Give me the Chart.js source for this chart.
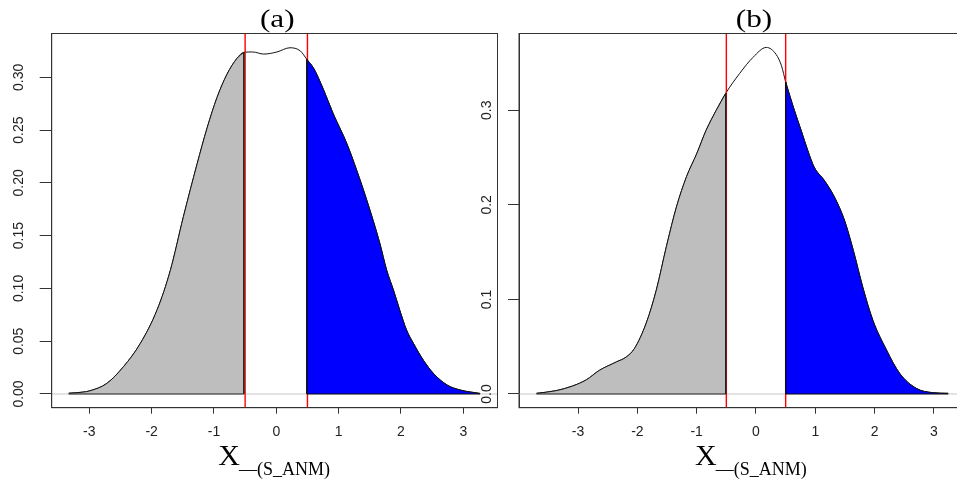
<!DOCTYPE html>
<html><head><meta charset="utf-8">
<script src="https://cdn.jsdelivr.net/npm/chart.js@4.4.0/dist/chart.umd.min.js"></script>
<style>
html,body{margin:0;padding:0;background:#fff;width:957px;height:482px;overflow:hidden;}
#wrap{position:relative;width:957px;height:482px;overflow:hidden;background:#fff;}
canvas{position:absolute;top:0;}
#ca{left:0;}
#cb{left:470px;}
</style></head><body>
<div id="wrap"><canvas id="ca" width="500" height="482"></canvas><canvas id="cb" width="500" height="482"></canvas></div>
<script>
// ---- data ----
const xA = [-3.33, -3.10, -2.99, -2.72, -2.45, -2.18, -1.91, -1.70, -1.49, -1.27, -1.11, -0.95, -0.79, -0.63, -0.52, -0.38, -0.20, 0.01, 0.22, 0.385, 0.49, 0.60, 0.76, 0.91, 1.13, 1.29, 1.45, 1.66, 1.77, 1.88, 1.98, 2.09, 2.20, 2.36, 2.52, 2.74, 2.95, 3.27];
const densA = [0.0007, 0.0018, 0.003, 0.010, 0.026, 0.048, 0.080, 0.117, 0.168, 0.218, 0.252, 0.281, 0.303, 0.318, 0.3237, 0.324, 0.322, 0.324, 0.328, 0.325, 0.317, 0.3085, 0.288, 0.266, 0.2375, 0.212, 0.184, 0.143, 0.1175, 0.0985, 0.0796, 0.0606, 0.048, 0.032, 0.0196, 0.0085, 0.0038, 0.0005];
const xB = [-3.70, -3.37, -3.09, -2.86, -2.64, -2.35, -2.19, -2.05, -1.85, -1.68, -1.51, -1.34, -1.17, -1.00, -0.84, -0.67, -0.51, -0.275, -0.05, 0.175, 0.34, 0.43, 0.50, 0.647, 0.76, 0.87, 0.98, 1.15, 1.32, 1.49, 1.64, 1.80, 1.97, 2.20, 2.42, 2.70, 2.98, 3.24];
const densB = [0.0007, 0.0035, 0.0085, 0.015, 0.025, 0.034, 0.039, 0.048, 0.075, 0.110, 0.156, 0.198, 0.230, 0.254, 0.279, 0.300, 0.318, 0.339, 0.356, 0.3665, 0.359, 0.347, 0.330, 0.300, 0.279, 0.258, 0.240, 0.226, 0.2086, 0.184, 0.152, 0.113, 0.078, 0.0465, 0.022, 0.006, 0.0014, 0.0007];
const cutA = [-0.52, 0.49];      // edges of the shaded tails, panel (a)
const cutB = [-0.51, 0.50];      // edges of the shaded tails, panel (b)
const redLines = [-0.5, 0.5];
const xTickValues = [-3, -2, -1, 0, 1, 2, 3];
const xTickLabels = ['-3', '-2', '-1', '0', '1', '2', '3'];
const yTicksA = [0, 0.05, 0.10, 0.15, 0.20, 0.25, 0.30];
const yTickLabelsA = ['0.00', '0.05', '0.10', '0.15', '0.20', '0.25', '0.30'];
const yTicksB = [0, 0.1, 0.2, 0.3];
const yTickLabelsB = ['0.0', '0.1', '0.2', '0.3'];
const panelTitles = ['(a)', '(b)'];
const axisMain = 'X';
const axisSub = '\u2014(S_ANM)';

const SANS = "'Liberation Sans', Arial, sans-serif";
const SERIF = "'Liberation Serif', 'Times New Roman', serif";
const AX = '#333';

function makePanel(id, xs, ds, cuts, yTicks, yLabels, lim, geo, title) {
  const pts = xs.map((x, i) => ({x: x, y: ds[i]}));
  const left = pts.filter(p => p.x <= cuts[0]);
  const right = pts.filter(p => p.x >= cuts[1]);
  const x0 = xs[0], x1 = xs[xs.length - 1];
  const lE = left[left.length - 1], rE = right[0];
  const mono = {cubicInterpolationMode: 'monotone'};
  const datasets = [
    {data: [{x: lim.xmin, y: 0}, {x: lim.xmax, y: 0}], borderColor: '#c8c8c8', borderWidth: 1, order: 7},
    Object.assign({data: pts, borderColor: '#111', borderWidth: 1, order: 6}, mono),
    {data: [{x: redLines[0], y: lim.ymin}, {x: redLines[0], y: lim.ymax}], borderColor: '#ff0000', borderWidth: 1.4, order: 5},
    {data: [{x: redLines[1], y: lim.ymin}, {x: redLines[1], y: lim.ymax}], borderColor: '#ff0000', borderWidth: 1.4, order: 5},
    Object.assign({data: left, fill: 'origin', backgroundColor: '#bebebe', borderColor: '#111', borderWidth: 1, order: 3}, mono),
    Object.assign({data: right, fill: 'origin', backgroundColor: '#0000ff', borderColor: '#111', borderWidth: 1, order: 3}, mono),
    {data: [lE, {x: lE.x, y: 0}, {x: x0, y: 0}], borderColor: '#222', borderWidth: 1, order: 1},
    {data: [rE, {x: rE.x, y: 0}, {x: x1, y: 0}], borderColor: '#111', borderWidth: 1, order: 1}
  ];
  datasets.forEach(d => { d.pointRadius = 0; if (!d.fill) d.fill = false; });

  const deco = {
    id: 'deco',
    afterDraw(chart) {
      const ctx = chart.ctx, a = chart.chartArea, xs_ = chart.scales.x;
      ctx.save();
      ctx.strokeStyle = AX; ctx.lineWidth = 1;
      ctx.strokeRect(a.left, a.top, a.right - a.left, a.bottom - a.top);
      ctx.fillStyle = '#000';
      ctx.textBaseline = 'alphabetic';
      ctx.textAlign = 'center';
      ctx.font = '26px ' + SERIF;
      ctx.save();
      ctx.translate(xs_.getPixelForValue(0) + geo.titleDx, 27);
      ctx.scale(1.2, 1);
      ctx.fillText(title, 0, 0);
      ctx.restore();
      ctx.textAlign = 'left';
      const xl = xs_.getPixelForValue(0) + geo.axDx;
      ctx.font = '30px ' + SERIF;
      ctx.fillText(axisMain, xl, 465);
      const w = ctx.measureText(axisMain).width;
      ctx.font = '18px ' + SERIF;
      ctx.fillText(axisSub, xl + w - 1, 474.5);
      ctx.restore();
    }
  };

  return new Chart(document.getElementById(id), {
    type: 'line',
    data: {datasets: datasets},
    plugins: [deco],
    options: {
      responsive: false, animation: false, devicePixelRatio: 1,
      layout: {padding: {left: 0, right: geo.padRight, top: 33.5, bottom: 0}},
      plugins: {legend: {display: false}, tooltip: {enabled: false}, title: {display: false}},
      elements: {point: {radius: 0}, line: {borderJoinStyle: 'round'}},
      scales: {
        x: {
          type: 'linear', min: lim.xmin, max: lim.xmax,
          afterBuildTicks: s => { s.ticks = xTickValues.map(v => ({value: v})); },
          afterFit: s => { s.height = 74.3; },
          ticks: {
            callback: v => xTickLabels[xTickValues.indexOf(v)],
            font: {family: SANS, size: 14}, color: '#222', padding: 10,
            maxRotation: 0, minRotation: 0, autoSkip: false
          },
          grid: {display: true, drawOnChartArea: false, drawTicks: true, tickLength: 6, tickColor: AX, tickWidth: 1},
          border: {display: true, color: AX, width: 1}
        },
        y: {
          type: 'linear', min: lim.ymin, max: lim.ymax,
          afterBuildTicks: s => { s.ticks = yTicks.map(v => ({value: v})); },
          afterFit: s => { s.width = geo.yWidth; },
          ticks: {
            callback: v => yLabels[yTicks.indexOf(v)],
            font: {family: SANS, size: 14}, color: '#222', padding: geo.yPad,
            minRotation: 90, maxRotation: 90, crossAlign: 'center', autoSkip: false
          },
          grid: {display: true, drawOnChartArea: false, drawTicks: true, tickLength: geo.yTick, tickColor: AX, tickWidth: 1},
          border: {display: true, color: AX, width: 1}
        }
      }
    }
  });
}

makePanel('ca', xA, densA, cutA, yTicksA, yTickLabelsA,
  {xmin: -3.603, xmax: 3.549, ymin: -0.01298, ymax: 0.3415},
  {padRight: 2.5, yWidth: 51.7, yPad: 6.9, yTick: 12, titleDx: 1, axDx: -58},
  panelTitles[0]);
makePanel('cb', xB, densB, cutB, yTicksB, yTickLabelsB,
  {xmin: -3.995, xmax: 3.518, ymin: -0.01449, ymax: 0.3812},
  {padRight: 5.3, yWidth: 49, yPad: 10.8, yTick: 11, titleDx: -2, axDx: -61},
  panelTitles[1]);
</script>
</body></html>
